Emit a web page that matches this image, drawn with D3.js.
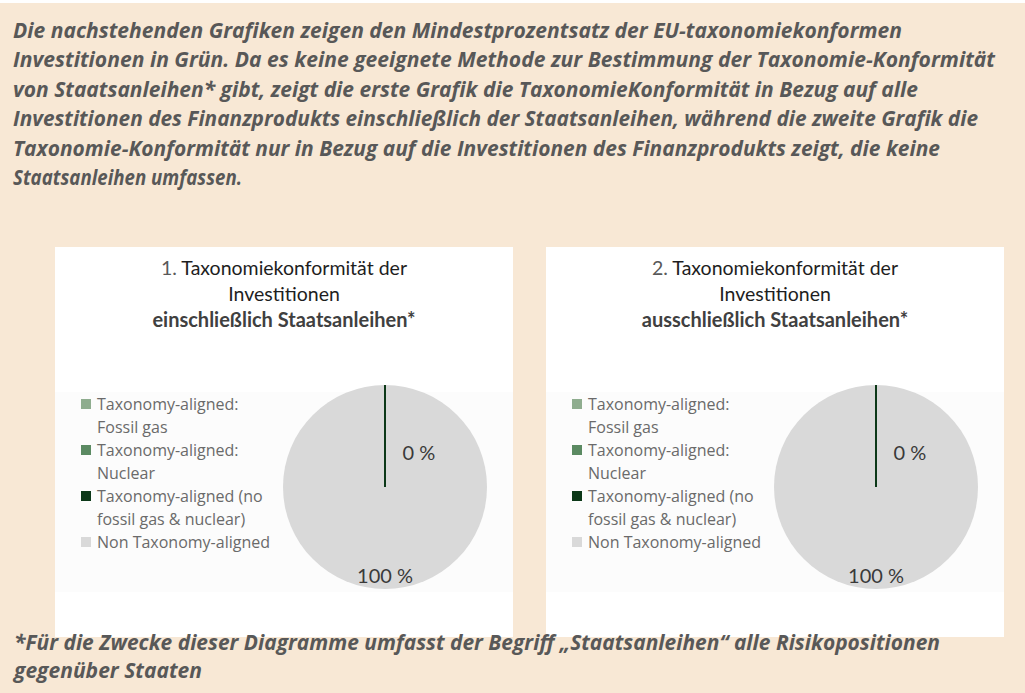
<!DOCTYPE html>
<html lang="de">
<head>
<meta charset="utf-8">
<script src="https://cdn.jsdelivr.net/npm/d3@7"></script>
<style>
  html, body { margin: 0; padding: 0; background: #f8e8d5; }
  svg { display: block; }
</style>
</head>
<body>
<svg id="page" width="1025" height="693"></svg>
<script>
// ---- Data ----
const categories = [
  "Taxonomy-aligned: Fossil gas",
  "Taxonomy-aligned: Nuclear",
  "Taxonomy-aligned (no fossil gas & nuclear)",
  "Non Taxonomy-aligned"
];
const legendLines = [
  ["Taxonomy-aligned:", "Fossil gas"],
  ["Taxonomy-aligned:", "Nuclear"],
  ["Taxonomy-aligned (no", "fossil gas & nuclear)"],
  ["Non Taxonomy-aligned"]
];
const sliceColors = ["#8fad8f", "#5b8a62", "#0c3818", "#d9d9d9"];
const valuesInclSovereign = [0, 0, 0, 100];
const valuesExclSovereign = [0, 0, 0, 100];
const labelledSlices = [false, false, true, true];

const titleIncl = ["1.", "Taxonomiekonformität der", "Investitionen", "einschließlich Staatsanleihen*"];
const titleExcl = ["2.", "Taxonomiekonformität der", "Investitionen", "ausschließlich Staatsanleihen*"];

const introLines = [
  "Die nachstehenden Grafiken zeigen den Mindestprozentsatz der EU-taxonomiekonformen",
  "Investitionen in Grün. Da es keine geeignete Methode zur Bestimmung der Taxonomie-Konformität",
  "von Staatsanleihen* gibt, zeigt die erste Grafik die TaxonomieKonformität in Bezug auf alle",
  "Investitionen des Finanzprodukts einschließlich der Staatsanleihen, während die zweite Grafik die",
  "Taxonomie-Konformität nur in Bezug auf die Investitionen des Finanzprodukts zeigt, die keine",
  "Staatsanleihen umfassen."
];
const introWidths = [889, 982, 905, 965, 927, 229];
const footnoteLines = [
  "*Für die Zwecke dieser Diagramme umfasst der Begriff „Staatsanleihen“ alle Risikopositionen",
  "gegenüber Staaten"
];
const footnoteWidths = [926, 188];

// ---- Layout ----
const svg = d3.select("#page");
const W = 1025, H = 693;
const FONT = "Lato, 'Open Sans', 'Noto Sans', sans-serif";
const FONT_TEXT = "'Open Sans', 'Noto Sans', sans-serif";

svg.append("rect").attr("width", W).attr("height", H).attr("fill", "#f8e8d5");
svg.append("rect").attr("width", W).attr("height", 3).attr("fill", "#ffffff");

// Set a line of text to its column width
function fitText(node, width) {
  d3.select(node).attr("textLength", width).attr("lengthAdjust", "spacingAndGlyphs");
}

// Introductory paragraph
const intro = svg.append("g")
  .attr("font-family", FONT_TEXT)
  .attr("font-weight", 700)
  .attr("font-style", "italic")
  .attr("font-size", 20.5)
  .attr("fill", "#585858");
intro.selectAll("text").data(introLines).join("text")
  .attr("x", 13)
  .attr("y", (d, i) => 38 + i * 29.4)
  .text(d => d)
  .each(function (d, i) { fitText(this, introWidths[i]); });

// ---- Pie panels ----
const panelW = 458, panelH = 390;
const radius = 102;
const pie = d3.pie().sort(null).value(d => d.value);
const arc = d3.arc().innerRadius(0).outerRadius(radius);

function drawPanel(x0, y0, values, title) {
  const g = svg.append("g").attr("transform", `translate(${x0},${y0})`);
  g.append("rect").attr("width", panelW).attr("height", panelH).attr("fill", "#ffffff");
  g.append("rect").attr("y", 145).attr("width", panelW).attr("height", 200).attr("fill", "#fcfcfc");

  // Title
  const t = g.append("g").attr("font-family", FONT).attr("text-anchor", "middle").attr("font-size", 19.5);
  const l1 = t.append("text").attr("x", panelW / 2).attr("y", 28).attr("fill", "#1e1e1e");
  l1.append("tspan").attr("fill", "#595959").text(title[0] + " ");
  l1.append("tspan").text(title[1]);
  t.append("text").attr("x", panelW / 2).attr("y", 54).attr("fill", "#1e1e1e").text(title[2]);
  t.append("text").attr("x", panelW / 2).attr("y", 80).attr("fill", "#404040")
    .attr("font-weight", 700).attr("font-size", 20).text(title[3]);

  // Legend
  const lg = g.append("g").attr("font-family", FONT_TEXT).attr("font-size", 16).attr("fill", "#6a6a6a");
  let row = 0;
  legendLines.forEach((lines, i) => {
    const by = 163 + row * 23;
    lg.append("rect").attr("x", 26).attr("y", by - 11).attr("width", 10).attr("height", 10)
      .attr("fill", sliceColors[i]);
    lines.forEach((ln, j) => {
      lg.append("text").attr("x", 42).attr("y", by + j * 23).text(ln);
    });
    row += lines.length;
  });

  // Pie
  const data = values.map((v, i) => ({ name: categories[i], value: v, color: sliceColors[i], labelled: labelledSlices[i] }));
  const arcs = pie(data);
  const pg = g.append("g").attr("transform", `translate(330,240)`);
  // non-zero slices first, zero-width slices drawn on top as radial strokes
  const ordered = arcs.slice().sort((a, b) => (a.data.value === 0) - (b.data.value === 0));
  pg.selectAll("path").data(ordered).join("path")
    .attr("d", arc)
    .attr("fill", d => d.data.color)
    .attr("stroke", d => d.data.value === 0 ? d.data.color : "none")
    .attr("stroke-width", d => d.data.value === 0 ? 2 : 0);

  // Data labels
  pg.selectAll("text").data(arcs.filter(d => d.data.labelled)).join("text")
    .attr("font-family", FONT).attr("font-size", 20).attr("fill", "#3a3a3a")
    .attr("text-anchor", "middle").attr("dy", "0.35em")
    .attr("transform", d => {
      const mid = (d.startAngle + d.endAngle) / 2;
      const a = d.data.value === 0 ? mid + Math.PI / 4 : mid;
      const r = d.data.value === 0 ? radius * 0.47 : radius * 0.87;
      return `translate(${r * Math.sin(a)},${-r * Math.cos(a)})`;
    })
    .text(d => `${d3.format(".0f")(d.data.value)} %`);
}

drawPanel(55, 247, valuesInclSovereign, titleIncl);
drawPanel(546, 247, valuesExclSovereign, titleExcl);

// Footnote, drawn after the panels so it sits above them
const foot = svg.append("g")
  .attr("font-family", FONT_TEXT)
  .attr("font-weight", 700)
  .attr("font-style", "italic")
  .attr("font-size", 20.5)
  .attr("fill", "#585858");
foot.selectAll("text").data(footnoteLines).join("text")
  .attr("x", 14)
  .attr("y", (d, i) => 650 + i * 28)
  .text(d => d)
  .each(function (d, i) { fitText(this, footnoteWidths[i]); });
</script>
</body>
</html>
